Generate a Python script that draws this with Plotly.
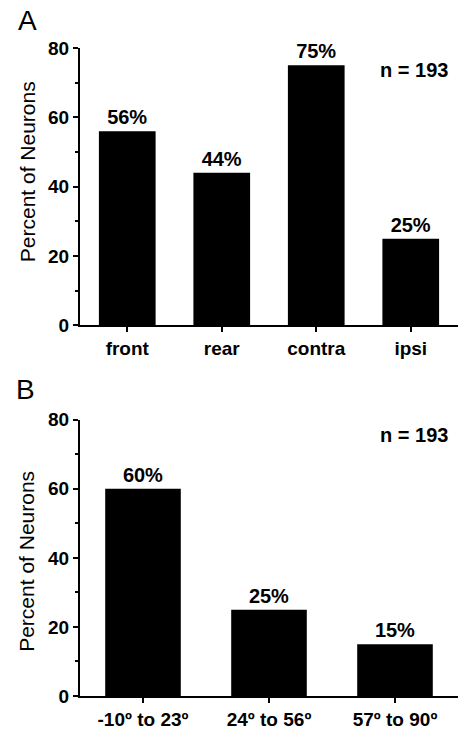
import plotly.graph_objects as go

cats_a = ["front", "rear", "contra", "ipsi"]
vals_a = [56, 44, 75, 25]
cats_b = ["-10º to 23º", "24º to 56º", "57º to 90º"]
vals_b = [60, 25, 15]
y_ticks = [0, 20, 40, 60, 80]
n_label = "n = 193"
y_title = "Percent of Neurons"

FONT = "Arial, Liberation Sans, sans-serif"
W, H = 459, 731
ML, MR, MT, MB = 80, 1, 48, 31
PH = H - MT - MB

def py(px):
    return (H - MB - px) / PH

def pxx(px):
    return (px - ML) / (W - ML - MR)

fig = go.Figure()
fig.add_trace(go.Bar(x=cats_a, y=vals_a, xaxis="x", yaxis="y",
                     marker=dict(color="black", line=dict(width=0)), width=0.6,
                     text=[f"{v}%" for v in vals_a], textposition="outside",
                     textfont=dict(family=FONT, size=20, color="black", weight="bold"),
                     cliponaxis=False, showlegend=False))
fig.add_trace(go.Bar(x=cats_b, y=vals_b, xaxis="x2", yaxis="y2",
                     marker=dict(color="black", line=dict(width=0)), width=0.6,
                     text=[f"{v}%" for v in vals_b], textposition="outside",
                     textfont=dict(family=FONT, size=20, color="black", weight="bold"),
                     cliponaxis=False, showlegend=False))

ax_common = dict(showline=True, linecolor="black", linewidth=2, ticks="outside",
                 ticklen=5, tickwidth=1.5, tickcolor="black", showgrid=False,
                 zeroline=False, tickfont=dict(family=FONT, size=19, color="black", weight="bold"))
yax = dict(ax_common, range=[0, 80], tickvals=y_ticks, ticklen=5,
           minor=dict(ticks="outside", dtick=10, ticklen=3, tickwidth=1.5, tickcolor="black"))

fig.update_layout(
    width=W, height=H, margin=dict(l=ML, r=MR, t=MT, b=MB),
    paper_bgcolor="white", plot_bgcolor="white",
    font=dict(family=FONT, color="black"),
    xaxis=dict(ax_common, domain=[0, 1], anchor="y", range=[-0.5, 3.5]),
    yaxis=dict(yax, domain=[py(327), 1.0], anchor="x"),
    xaxis2=dict(ax_common, domain=[0, 1], anchor="y2", range=[-0.5, 2.5]),
    yaxis2=dict(yax, domain=[0, py(422)], anchor="x2"),
    bargap=0.4,
)

ann = []
for yc in (py(173), py(565)):
    ann.append(dict(text=y_title, x=pxx(27), y=yc, xref="paper", yref="paper",
                    textangle=-90, showarrow=False, xanchor="center", yanchor="middle",
                    font=dict(family=FONT, size=21, color="black")))
ann.append(dict(text="A", x=pxx(27), y=py(20), xref="paper", yref="paper", showarrow=False,
                xanchor="center", yanchor="middle", font=dict(family=FONT, size=28, color="black")))
ann.append(dict(text="B", x=pxx(25), y=py(392), xref="paper", yref="paper", showarrow=False,
                xanchor="center", yanchor="middle", font=dict(family=FONT, size=28, color="black")))
for yc in (py(70), py(437)):
    ann.append(dict(text=n_label, x=pxx(450), y=yc, xref="paper", yref="paper", showarrow=False,
                    xanchor="right", yanchor="middle",
                    font=dict(family=FONT, size=20, color="black", weight="bold")))
fig.update_layout(annotations=ann)

fig.write_html("out.html", config={"displayModeBar": False},
               post_script="document.body.style.margin='0';")
